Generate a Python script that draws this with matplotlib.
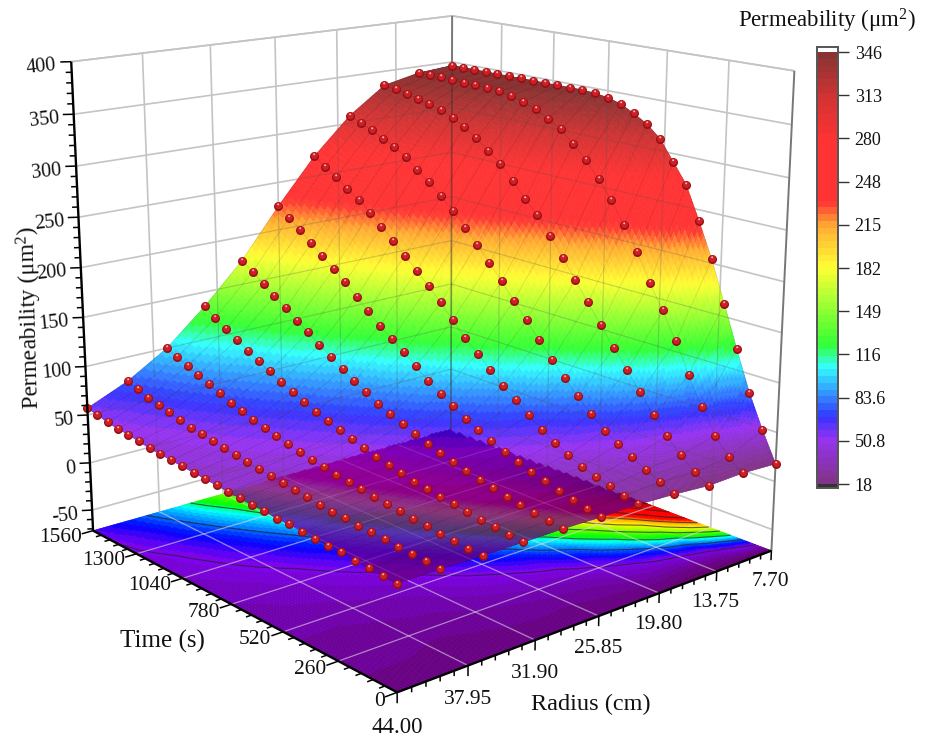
import numpy as np
import matplotlib
matplotlib.use("Agg")
import matplotlib.pyplot as plt
from matplotlib.colors import LinearSegmentedColormap, Normalize
from matplotlib.path import Path
from mpl_toolkits.mplot3d import proj3d

plt.rcParams['font.family'] = 'Liberation Serif'
plt.rcParams['mathtext.fontset'] = 'custom'
plt.rcParams['mathtext.rm'] = 'Liberation Serif'
plt.rcParams['mathtext.default'] = 'regular'

time_s = [0, 60, 120, 180, 240, 300, 360, 420, 480, 540, 600, 660, 720, 780, 840, 900,
          960, 1020, 1080, 1140, 1200, 1260, 1320, 1380, 1440, 1500, 1560]
radius_cm = [7.70, 11.33, 14.96, 18.59, 22.22, 25.85, 29.48, 33.11, 36.74, 40.37, 44.00]

perm_r0 = [18, 48, 81, 121, 163, 204, 239, 272, 292, 312, 324, 332, 339, 343, 345, 346, 346, 346, 346, 346, 346, 346, 346, 346, 346, 346, 346]
perm_r1 = [20, 31, 48, 72, 100, 130, 157, 181, 208, 232, 254, 272, 288, 302, 314, 322, 329, 334, 338, 340, 341, 342, 342, 342, 343, 343, 343]
perm_r2 = [19, 27, 39, 53, 70, 88, 106, 124, 143, 162, 181, 200, 218, 236, 250, 265, 279, 290, 300, 309, 316, 321, 325, 328, 331, 333, 335]
perm_r3 = [22, 29, 36, 43, 51, 60, 72, 85, 99, 113, 129, 145, 161, 177, 192, 207, 221, 235, 247, 258, 268, 278, 286, 292, 298, 303, 308]
perm_r4 = [24, 27, 31, 35, 40, 47, 54, 62, 72, 82, 92, 104, 116, 128, 142, 156, 169, 181, 193, 205, 216, 227, 237, 246, 255, 263, 271]
perm_r5 = [24, 26, 29, 33, 37, 41, 46, 51, 57, 63, 69, 77, 85, 94, 104, 114, 123, 133, 144, 155, 166, 176, 186, 196, 206, 216, 225]
perm_r6 = [25, 27, 29, 31, 34, 37, 40, 43, 47, 51, 55, 60, 65, 70, 76, 83, 90, 98, 106, 114, 123, 131, 140, 149, 158, 167, 175]
perm_r7 = [25, 26, 28, 29, 31, 33, 35, 37, 39, 42, 45, 48, 52, 56, 60, 64, 69, 74, 80, 86, 92, 98, 105, 112, 119, 127, 135]
perm_r8 = [25, 26, 27, 28, 30, 31, 33, 35, 36, 38, 40, 42, 44, 46, 49, 52, 55, 58, 62, 66, 70, 75, 80, 85, 90, 95, 100]
perm_r9 = [26, 27, 28, 29, 30, 31, 31, 33, 34, 35, 37, 39, 40, 42, 43, 45, 47, 49, 51, 53, 55, 58, 61, 64, 67, 71, 75]
perm_r10 = [26, 27, 28, 29, 31, 31, 32, 33, 34, 34, 36, 36, 37, 38, 39, 40, 41, 42, 43, 44, 45, 47, 49, 50, 52, 55, 57]

time_ticks = [0, 260, 520, 780, 1040, 1300, 1560]
radius_ticks = [7.70, 13.75, 19.80, 25.85, 31.90, 37.95, 44.00]
radius_labels = ['7.70', '13.75', '19.80', '25.85', '31.90', '37.95', '44.00']
z_ticks = [-50, 0, 50, 100, 150, 200, 250, 300, 350, 400]
cbar_ticks = [18, 50.8, 83.6, 116.4, 149.2, 182, 214.8, 247.6, 280.4, 313.2, 346]
cbar_labels = ['18', '50.8', '83.6', '116', '149', '182', '215', '248', '280', '313', '346']

W, H = 936, 739
t_max, r_min, r_max = 1560, 7.7, 44
z_floor, z_top = -72, 400
surf_alpha = 0.8

perm = np.array([perm_r0, perm_r1, perm_r2, perm_r3, perm_r4, perm_r5,
                 perm_r6, perm_r7, perm_r8, perm_r9, perm_r10], dtype=float)
T, R = np.meshgrid(time_s, radius_cm)

# finer mesh only so the colour bands do not follow the big grid cells
t_fine = np.linspace(0, t_max, 261)
r_fine = np.linspace(r_min, r_max, 121)
z_tmp = np.array([np.interp(t_fine, time_s, row) for row in perm])
Z_fine = np.array([np.interp(r_fine, radius_cm, col) for col in z_tmp.T]).T
T_fine, R_fine = np.meshgrid(t_fine, r_fine)

cmap = LinearSegmentedColormap.from_list('perm', [
    (0.000, (100/255, 0, 110/255)),
    (0.098, (125/255, 0, 240/255)),
    (0.149, (0, 0, 1)),
    (0.200, (0, 110/255, 1)),
    (0.268, (0, 1, 1)),
    (0.320, (0, 1, 0)),
    (0.500, (1, 1, 0)),
    (0.600, (1, 150/255, 0)),
    (0.656, (1, 0, 0)),
    (0.800, (1, 0, 0)),
    (0.900, (200/255, 0, 0)),
    (1.000, (110/255, 0, 0)),
], N=64)
norm = Normalize(18, 346)

fig = plt.figure(figsize=(W / 100, H / 100), dpi=100)
side = 832.6
ax = fig.add_axes([0.6 / W, 0.5 / H, side / W, side / H], projection='3d', computed_zorder=False)
ax.set_xlim(0, t_max)
ax.set_ylim(r_min, r_max)
ax.set_zlim(z_floor, z_top)
ax.set_box_aspect((1.0007, 1, 0.9927))
ax.view_init(15.887, 139.44)
ax.set_proj_type('persp', focal_length=0.4688)
ax.set_xticks([])
ax.set_yticks([])
ax.set_zticks([])
ax.set_axis_off()
M = ax.get_proj()


def line3(xs, ys, zs, **kw):
    return ax.plot(xs, ys, zs, solid_capstyle='butt', **kw)[0]


def label3(t, r, z, s, **kw):
    # plain figure text placed at the projected spot of a 3d point
    px, py, _ = proj3d.proj_transform(t, r, z, M)
    dx, dy = ax.transData.transform((px, py))
    fig.text(dx / W, dy / H, s, va='center', color='#111111', **kw)


# outline of the surface on screen, keeps the see-through lines inside it
edge_t = np.r_[np.full(11, 1560.0), time_s[::-1], np.zeros(10), time_s[1:]]
edge_r = np.r_[radius_cm, np.full(27, 44.0), radius_cm[-2::-1], np.full(26, 7.7)]
edge_z = np.r_[perm[:, -1], perm[-1, ::-1], perm[-2::-1, 0], perm[0, 1:]]
px, py, _ = proj3d.proj_transform(edge_t, edge_r, edge_z, M)
outline = Path(np.c_[px, py])

# wall grid
grid_c = '#c4c4c4'
wall_segments = []
for z in z_ticks + [z_top]:
    wall_segments.append(([t_max, t_max], [r_min, r_max], [z, z]))
    wall_segments.append(([0, t_max], [r_min, r_min], [z, z]))
for r in radius_ticks[1:-1]:
    wall_segments.append(([t_max, t_max], [r, r], [z_floor, z_top]))
for t in time_ticks[1:-1]:
    wall_segments.append(([t, t], [r_min, r_min], [z_floor, z_top]))
for xs, ys, zs in wall_segments:
    line3(xs, ys, zs, color=grid_c, lw=1.2, zorder=1)
line3([t_max, t_max], [r_min, r_min], [z_floor, z_top], color='#777777', lw=1.4, zorder=1)
line3([0, 0], [r_min, r_min], [z_floor, z_top], color='#777777', lw=1.4, zorder=1)

# floor map
floor_segments = []
for r in radius_ticks[1:-1]:
    floor_segments.append(([0, t_max], [r, r], [z_floor, z_floor]))
for t in time_ticks[1:-1]:
    floor_segments.append(([t, t], [r_min, r_max], [z_floor, z_floor]))
floor_cols = cmap(norm(Z_fine))
ax.plot_surface(T_fine, R_fine, np.full_like(Z_fine, z_floor), facecolors=floor_cols, shade=False,
                rstride=1, cstride=1, linewidth=0.4, antialiased=True, zorder=2)
ax.contour(T, R, perm, levels=cbar_ticks[1:-1], zdir='z', offset=z_floor,
           colors='#222222', linewidths=0.8, alpha=0.7, zorder=3)
for xs, ys, zs in floor_segments:
    line3(xs, ys, zs, color='#e0d8e8', lw=0.9, alpha=0.6, zorder=4)

# the surface is see-through: mix each vertex with what lies behind it (floor or white wall).
# the floor plane maps to the screen by a 3x3 homography, its inverse finds the floor point
sx, sy, _ = proj3d.proj_transform(T_fine.ravel(), R_fine.ravel(), Z_fine.ravel(), M)
hom = np.array([[M[0, 0], M[0, 1], M[0, 2] * z_floor + M[0, 3]],
                [M[1, 0], M[1, 1], M[1, 2] * z_floor + M[1, 3]],
                [M[3, 0], M[3, 1], M[3, 2] * z_floor + M[3, 3]]])
back = np.linalg.inv(hom) @ np.vstack([sx, sy, np.ones_like(sx)])
bt, br = back[0] / back[2], back[1] / back[2]
inside = (bt >= 0) & (bt <= t_max) & (br >= r_min) & (br <= r_max)
it = np.clip(np.round(bt / t_max * (len(t_fine) - 1)).astype(int), 0, len(t_fine) - 1)
ir = np.clip(np.round((br - r_min) / (r_max - r_min) * (len(r_fine) - 1)).astype(int), 0, len(r_fine) - 1)
behind = np.ones((sx.size, 3))
behind[inside] = floor_cols[ir[inside], it[inside], :3]
surf_cols = cmap(norm(Z_fine))
surf_cols[..., :3] = surf_alpha * surf_cols[..., :3] + (1 - surf_alpha) * behind.reshape(Z_fine.shape + (3,))
ax.plot_surface(T_fine, R_fine, Z_fine, facecolors=surf_cols, shade=False,
                rstride=1, cstride=1, linewidth=0.4, antialiased=True, zorder=5)

# grid lines showing faintly through it
for xs, ys, zs in wall_segments:
    ln = line3(xs, ys, zs, color='#555555', lw=0.8, alpha=0.25, zorder=6)
    ln.set_clip_path(outline, ax.transData)
for xs, ys, zs in floor_segments:
    ln = line3(xs, ys, zs, color='#e0d8e8', lw=0.8, alpha=0.15, zorder=6)
    ln.set_clip_path(outline, ax.transData)
ln = line3([t_max, t_max], [r_min, r_min], [z_floor, z_top], color='#333333', lw=1.2, alpha=0.5, zorder=6)
ln.set_clip_path(outline, ax.transData)

ax.plot_wireframe(T, R, perm, color='black', linewidth=0.5, alpha=0.13, zorder=7)

# balls: dark base, lighter body, small highlight
dots_t, dots_r, dots_z = T.ravel(), R.ravel(), perm.ravel()
ax.scatter(dots_t, dots_r, dots_z, s=42, c='#931015', marker='o', linewidths=0, depthshade=False, zorder=8)
ax.scatter(dots_t, dots_r, dots_z, s=34, c='#cf1f26', marker=Path.circle((0, 0.6), 3), linewidths=0, depthshade=False, zorder=9)
ax.scatter(dots_t, dots_r, dots_z, s=21, c='#ffb4b4', marker=Path.circle((-0.3, 2), 0.9), linewidths=0, depthshade=False, zorder=10)

# axes: heavy black lines with major and minor ticks
line3([0, t_max], [r_max, r_max], [z_floor, z_floor], color='black', lw=1.7, zorder=11)
line3([0, 0], [r_min, r_max], [z_floor, z_floor], color='black', lw=1.7, zorder=11)
line3([t_max, t_max], [r_max, r_max], [z_floor, z_top], color='black', lw=1.7, zorder=11)

for t in np.arange(0, t_max + 1, 52):
    dy = 1.0 if t in time_ticks else 0.5
    line3([t, t], [r_max, r_max + dy], [z_floor, z_floor], color='black', lw=1.1, zorder=11)
for r in np.arange(r_min, r_max + 0.1, 1.21):
    major = np.min(np.abs(np.array(radius_ticks) - r)) < 0.01
    dz = 10 if major else 5
    line3([0, 0], [r, r], [z_floor, z_floor - dz], color='black', lw=1.1, zorder=11)
for z in np.arange(-70, z_top + 1, 10):
    k = 1.0 if z in z_ticks else 0.55
    line3([t_max, t_max + 18 * k], [r_max, r_max + 0.65 * k], [z, z], color='black', lw=1.1, zorder=11)

# tick labels
for t in time_ticks:
    label3(t, r_max + 1.0, z_floor - 4, str(t), fontsize=15.5, ha='right')
for r, lab in zip(radius_ticks, radius_labels):
    size = 16.5 if lab == '44.00' else 15.5
    label3(0, r, z_floor - 32, lab, fontsize=size, ha='center')
for z in z_ticks:
    label3(t_max + 10, r_max + 1.0, z - 4, str(z), fontsize=14.5, ha='right', rotation=6)

# axis titles
fig.text(162 / W, 1 - 641 / H, 'Time (s)', fontsize=18, ha='center', va='center', color='#111111')
fig.text(591 / W, 1 - 704 / H, 'Radius (cm)', fontsize=17.5, ha='center', va='center', color='#111111')
fig.text(31 / W, 1 - 318 / H, 'Permeability (μm$^{2}$)', fontsize=17, ha='center', va='center', rotation=91.5, color='#111111')
fig.text(827 / W, 1 - 21 / H, 'Permeability (μm$^{2}$)', fontsize=16.5, ha='center', va='center', color='#111111')

# colour bar
cax = fig.add_axes([817 / W, 1 - 488 / H, 21 / W, 441 / H])
levels = np.linspace(18, 346, 64)
cax.pcolormesh([0, 1], np.linspace(18, 346, 65), levels[:, None], cmap=cmap, norm=norm, alpha=surf_alpha, linewidth=0, rasterized=True)
cax.axhspan(15, 18, color='#333333', lw=0)
cax.set_xlim(0, 1)
cax.set_ylim(15, 349.8)
cax.set_xticks([])
cax.yaxis.tick_right()
cax.set_yticks(cbar_ticks)
cax.set_yticklabels(cbar_labels, fontsize=13, color='#111111')
cax.tick_params(axis='y', length=8, width=1, color='#333333', pad=4)
for sp in cax.spines.values():
    sp.set_color('#555555')
    sp.set_linewidth(1.4)

fig.savefig('out.png', dpi=100)
